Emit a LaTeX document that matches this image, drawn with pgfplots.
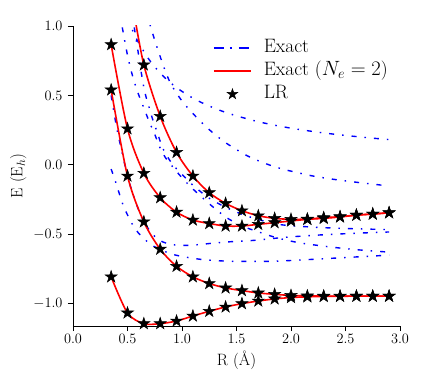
\documentclass[border=0pt]{standalone}
\usepackage{pgfplots}
\pgfplotsset{compat=1.18}
\definecolor{exblue}{RGB}{0,0,255}
\definecolor{exred}{RGB}{255,0,0}

% filled five-pointed star, like matplotlib's '*'
\pgfdeclareplotmark{fstar}{%
  \pgfpathmoveto{\pgfpointpolar{90}{\pgfplotmarksize}}%
  \pgfpathlineto{\pgfpointpolar{126}{0.382\pgfplotmarksize}}%
  \pgfpathlineto{\pgfpointpolar{162}{\pgfplotmarksize}}%
  \pgfpathlineto{\pgfpointpolar{198}{0.382\pgfplotmarksize}}%
  \pgfpathlineto{\pgfpointpolar{234}{\pgfplotmarksize}}%
  \pgfpathlineto{\pgfpointpolar{270}{0.382\pgfplotmarksize}}%
  \pgfpathlineto{\pgfpointpolar{306}{\pgfplotmarksize}}%
  \pgfpathlineto{\pgfpointpolar{342}{0.382\pgfplotmarksize}}%
  \pgfpathlineto{\pgfpointpolar{18}{\pgfplotmarksize}}%
  \pgfpathlineto{\pgfpointpolar{54}{0.382\pgfplotmarksize}}%
  \pgfpathclose
  \pgfusepathqfillstroke
}

\pgfplotsset{
  exdd/.style={exblue, smooth, line width=1.4bp, dash pattern=on 5bp off 8bp on 1.5bp off 8bp},
  exsol/.style={exred, smooth, line width=1.6bp},
  blueleg/.style={legend image code/.code={\draw[exblue, line width=1.4bp,
    dash pattern=on 10bp off 6bp on 2bp off 7bp] (0bp,0bp) -- (37bp,0bp);}},
  redleg/.style={legend image code/.code={\draw[exred, line width=1.6bp] (0bp,0bp) -- (37bp,0bp);}},
  starleg/.style={legend image code/.code={\path[draw=none] (0bp,0bp) -- (37bp,0bp);
    \pgfsetfillcolor{black}\pgfsetlinewidth{0.5bp}%
    \pgfplotmarksize=5.5bp\relax\pgftransformshift{\pgfpoint{18.5bp}{0bp}}\pgfuseplotmark{fstar}}},
  lr/.style={only marks, mark=fstar, mark size=6.3bp,
    mark options={fill=black, draw=black, line width=0.5bp}},
}

% LR points (and N_e = 2 curves) on the R grid
\pgfplotstableread{
R     D       B       A       C
0.35  -0.806  0.540   0.866   nan
0.50  -1.066  -0.080  0.260   nan
0.65  -1.143  -0.410  -0.060  0.720
0.80  -1.143  -0.607  -0.236  0.350
0.95  -1.124  -0.730  -0.340  0.090
1.10  -1.088  -0.806  -0.397  -0.080
1.25  -1.054  -0.854  -0.422  -0.200
1.40  -1.023  -0.886  -0.440  -0.277
1.55  -0.999  -0.905  -0.440  -0.330
1.70  -0.980  -0.922  -0.428  -0.366
1.85  -0.965  -0.932  -0.416  -0.385
2.00  -0.955  -0.940  -0.404  -0.392
2.15  -0.950  -0.943  -0.392  -0.390
2.30  -0.947  -0.944  -0.385  -0.380
2.45  -0.946  -0.945  -0.375  -0.373
2.60  -0.945  -0.945  -0.362  -0.361
2.75  -0.945  -0.945  -0.354  -0.354
2.90  -0.945  -0.945  -0.345  -0.344
}\lrdata

\begin{document}
\begin{tikzpicture}
\useasboundingbox (-73bp,-55bp) rectangle (362bp,326bp);
\begin{axis}[
  at={(0,0)}, anchor=south west, scale only axis,
  width=327bp, height=300bp,
  xmin=0, xmax=3, ymin=-1.16, ymax=1.0,
  axis lines=left, axis line style={-, line width=0.9bp},
  tick align=outside, major tick length=5bp,
  tick style={black, line width=0.9bp},
  xtick={0,0.5,1,1.5,2,2.5,3}, ytick={-1,-0.5,0,0.5,1},
  /pgf/number format/.cd, fixed, fixed zerofill, precision=1, /pgfplots/.cd,
  tick label style={font=\fontsize{14}{16}\selectfont},
  yticklabel style={xshift=-2bp},
  label style={font=\fontsize{16.5}{19}\selectfont},
  xlabel={R (\AA)}, ylabel={E (E$_h$)},
  legend cell align=left,
  legend style={draw=none, fill=none, at={(0.428,0.965)}, anchor=north west,
    inner sep=0pt, row sep=0pt, font=\fontsize{19.5}{22}\selectfont,
    nodes={text height=13bp, text depth=4bp, inner ysep=3bp, inner xsep=2bp},
    /tikz/every odd column/.append style={column sep=10bp}},
]
% Exact (all particle numbers), blue
\addplot[exdd, blueleg]
  coordinates {(0.5,1.058) (0.55,0.962) (0.6,0.882) (0.7,0.756) (0.8,0.661)
  (0.9,0.588) (1.0,0.529) (1.1,0.481) (1.2,0.441) (1.35,0.392) (1.5,0.353)
  (1.7,0.311) (1.9,0.278) (2.1,0.252) (2.3,0.230) (2.5,0.212) (2.7,0.196) (2.9,0.182)};
\addlegendentry{Exact}
\addplot[exdd, forget plot]
  coordinates {(0.68,1.1) (0.71,1.0) (0.77,0.85) (0.84,0.69) (0.9,0.58) (1.0,0.46)
  (1.1,0.37) (1.2,0.29) (1.3,0.22) (1.4,0.16) (1.5,0.11) (1.6,0.065) (1.7,0.03)
  (1.8,0.0) (1.9,-0.025) (2.0,-0.045) (2.2,-0.08) (2.4,-0.105) (2.6,-0.125)
  (2.8,-0.143) (2.9,-0.152)};
\addplot[exdd, forget plot]
  coordinates {(0.42,1.15) (0.45,1.0) (0.5,0.79) (0.55,0.63) (0.6,0.51) (0.65,0.41)
  (0.7,0.31) (0.75,0.22) (0.8,0.12) (0.85,0.05) (0.9,0.0) (0.98,-0.075) (1.07,-0.15)
  (1.15,-0.21) (1.28,-0.30) (1.4,-0.375) (1.5,-0.42) (1.6,-0.455) (1.73,-0.49)
  (1.87,-0.525) (2.07,-0.56) (2.3,-0.585) (2.5,-0.603) (2.7,-0.617) (2.9,-0.628)};
\addplot[exdd, forget plot]
  coordinates {(0.53,1.15) (0.56,1.0) (0.6,0.8) (0.64,0.6) (0.67,0.49) (0.7,0.41)
  (0.73,0.33) (0.77,0.24) (0.8,0.17) (0.83,0.11) (0.89,0.03) (0.94,-0.02) (1.04,-0.1)
  (1.12,-0.16) (1.25,-0.24) (1.4,-0.305) (1.55,-0.355) (1.7,-0.393) (1.9,-0.43)
  (2.2,-0.448) (2.5,-0.458) (2.9,-0.466)};
\addplot[exdd, forget plot]
  coordinates {(0.35,0.5) (0.4,0.27) (0.45,0.09) (0.5,-0.08) (0.55,-0.21) (0.6,-0.32)
  (0.65,-0.41) (0.71,-0.48) (0.75,-0.515) (0.8,-0.545) (0.86,-0.565) (0.95,-0.578)
  (1.04,-0.58) (1.17,-0.573) (1.29,-0.563) (1.45,-0.553) (1.65,-0.544) (1.97,-0.52)
  (2.3,-0.503) (2.6,-0.492) (2.9,-0.483)};
\addplot[exdd, forget plot]
  coordinates {(0.35,-0.03) (0.39,-0.12) (0.42,-0.195) (0.46,-0.29) (0.5,-0.36)
  (0.55,-0.435) (0.6,-0.49) (0.7,-0.565) (0.8,-0.61) (0.92,-0.645) (1.04,-0.665)
  (1.17,-0.68) (1.29,-0.688) (1.45,-0.694) (1.7,-0.695) (1.9,-0.692) (2.2,-0.68)
  (2.5,-0.667) (2.9,-0.65)};
% Exact, N_e = 2, red
\addplot[exsol, redleg] table[x=R, y=D] {\lrdata};
\addlegendentry{Exact ($N_e=2$)}
\addplot[exsol, forget plot] table[x=R, y=B] {\lrdata};
\addplot[exsol, forget plot] table[x=R, y=A] {\lrdata};
\addplot[exsol, forget plot]
  coordinates {(0.55,1.14) (0.65,0.72) (0.8,0.35) (0.95,0.09) (1.1,-0.08) (1.25,-0.2)
  (1.4,-0.277) (1.55,-0.33) (1.7,-0.366) (1.85,-0.385) (2.0,-0.392) (2.15,-0.39)
  (2.3,-0.38) (2.45,-0.373) (2.6,-0.361) (2.75,-0.354) (2.9,-0.344)};
% LR
\addplot[lr, starleg] table[x=R, y=D] {\lrdata};
\addlegendentry{LR}
\addplot[lr, forget plot] table[x=R, y=B] {\lrdata};
\addplot[lr, forget plot] table[x=R, y=A] {\lrdata};
\addplot[lr, forget plot] table[x=R, y=C] {\lrdata};
\end{axis}
\end{tikzpicture}
\end{document}
